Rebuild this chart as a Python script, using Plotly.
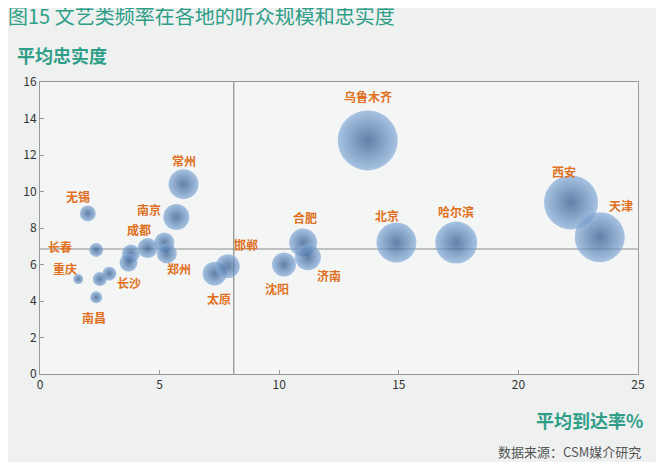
import plotly.graph_objects as go

cities = ["无锡", "长春", "重庆", "南昌", "长沙", "", "成都", "", "", "", "郑州", "南京", "常州",
          "太原", "邯郸", "沈阳", "合肥", "济南", "乌鲁木齐", "北京", "哈尔滨", "西安", "天津"]
reach = [2.0, 2.35, 1.6, 2.35, 2.9, 2.5, 4.5, 3.8, 3.7, 5.2, 5.3, 5.7, 6.0,
         7.3, 7.85, 10.2, 11.0, 11.2, 13.7, 14.9, 17.4, 22.2, 23.4]
loyalty = [8.8, 6.8, 5.2, 4.2, 5.5, 5.2, 6.9, 6.6, 6.1, 7.2, 6.6, 8.6, 10.4,
           5.5, 5.9, 6.0, 7.2, 6.4, 12.8, 7.2, 7.2, 9.4, 7.5]
size = [16, 14, 10, 12, 14, 14, 20, 18, 18, 20, 20, 26, 30,
        24, 24, 24, 28, 26, 60, 40, 42, 54, 50]

label_x = [1.57, 0.83, 1.03, 2.27, 3.7, None, 4.13, None, None, None, 5.8, 4.55, 6.03,
           7.5, 8.6, 9.9, 11.07, 12.07, 13.7, 14.5, 17.4, 21.9, 24.3]
label_y = [9.7, 7.0, 5.8, 3.07, 5.0, None, 7.9, None, None, None, 5.8, 9.0, 11.7,
           4.16, 7.07, 4.7, 8.6, 5.4, 15.2, 8.66, 8.9, 11.07, 9.26]

avg_reach = 8.1
avg_loyalty = 6.85

teal = "#2f9e88"
orange = "#e07020"

fig = go.Figure()
fig.add_trace(go.Scatter(
    x=reach, y=loyalty, mode="markers",
    marker=dict(size=size, sizemode="diameter", color="#86acd9",
                gradient=dict(type="radial", color="#234f86"),
                line=dict(width=0)),
    hovertext=cities, showlegend=False,
))

for name, lx, ly in zip(cities, label_x, label_y):
    if name:
        fig.add_annotation(x=lx, y=ly, text="<b>" + name + "</b>", showarrow=False,
                           font=dict(size=12, color=orange, family="Noto Sans CJK SC"))

fig.add_shape(type="line", x0=avg_reach, x1=avg_reach, y0=0, y1=16,
              line=dict(color="#8a8a8a", width=1.2), layer="below")
fig.add_shape(type="line", x0=0, x1=25, y0=avg_loyalty, y1=avg_loyalty,
              line=dict(color="#8a8a8a", width=1.2), layer="below")

fig.add_annotation(xref="paper", yref="paper", x=-0.041, y=1.04, xanchor="left", yanchor="bottom",
                   text="<b>平均忠实度</b>", showarrow=False,
                   font=dict(size=18, color=teal, family="Noto Sans CJK SC"))
fig.add_annotation(xref="paper", yref="paper", x=1.012, y=-0.106, xanchor="right", yanchor="top",
                   text="<b>平均到达率%</b>", showarrow=False,
                   font=dict(size=18, color=teal, family="Noto Sans CJK SC"))
fig.add_annotation(xref="paper", yref="paper", x=1.008, y=-0.226, xanchor="right", yanchor="top",
                   text="数据来源：CSM媒介研究", showarrow=False,
                   font=dict(size=13, color="#555555", family="Noto Sans CJK SC"))

fig.update_layout(
    width=648, height=454,
    margin=dict(l=32, r=11, t=74, b=88),
    paper_bgcolor="#eef1f0", plot_bgcolor="#f4f6f6",
    title=dict(text="图15 文艺类频率在各地的听众规模和忠实度", x=0.0, y=0.995,
               xanchor="left", yanchor="top",
               font=dict(size=20, color=teal, family="Noto Sans CJK SC")),
    font=dict(family="Noto Sans CJK SC", color="#333333", size=12),
)
fig.update_xaxes(range=[0, 25], dtick=5, showgrid=False, zeroline=False,
                 showline=True, linecolor="#999999", mirror=True, ticks="inside",
                 ticklen=4, tickcolor="#999999")
fig.update_yaxes(range=[0, 16], dtick=2, showgrid=False, zeroline=False,
                 showline=True, linecolor="#999999", mirror=True, ticks="inside",
                 ticklen=4, tickcolor="#999999")

fig.write_html("out.html")
